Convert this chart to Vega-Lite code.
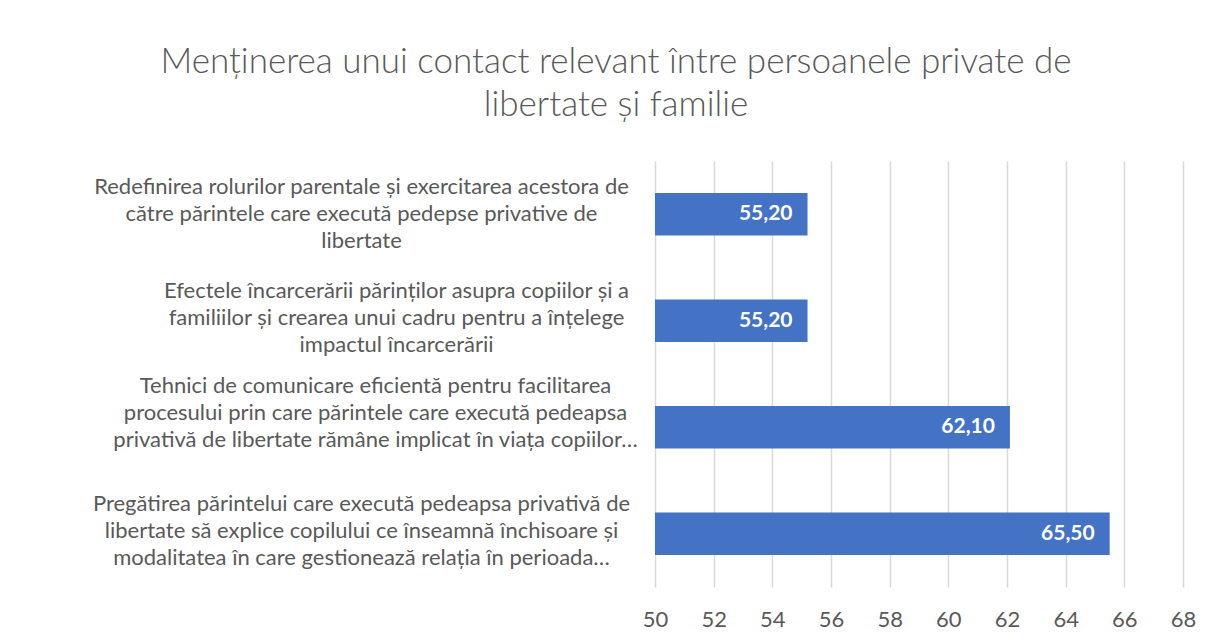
{
  "$schema": "https://vega.github.io/schema/vega-lite/v6.json",
  "width": 528,
  "height": 426,
  "autosize": {"type": "none"},
  "padding": {"left": 655, "top": 161, "right": 29, "bottom": 55},
  "background": "white",
  "config": {
    "locale": {"number": {"decimal": ",", "thousands": ".", "grouping": [3], "currency": ["", ""]}},
    "view": {"stroke": null},
    "font": "Lato"
  },
  "title": {
    "text": ["Menținerea unui contact relevant între persoanele private de", "libertate și familie"],
    "font": "Lato",
    "fontWeight": 300,
    "fontSize": 35,
    "color": "#595959",
    "lineHeight": 43,
    "anchor": "middle",
    "frame": "group",
    "dx": -303,
    "offset": 38
  },
  "data": {
    "values": [
      {"categorie": "Redefinirea rolurilor parentale și exercitarea acestora de|către părintele care execută pedepse privative de|libertate", "valoare": 55.2},
      {"categorie": "Efectele încarcerării părinților asupra copiilor și a|familiilor și crearea unui cadru pentru a înțelege|impactul încarcerării", "valoare": 55.2},
      {"categorie": "Tehnici de comunicare eficientă pentru facilitarea|procesului prin care părintele care execută pedeapsa|privativă de libertate rămâne implicat în viața copiilor…", "valoare": 62.1},
      {"categorie": "Pregătirea părintelui care execută pedeapsa privativă de|libertate să explice copilului ce înseamnă închisoare și|modalitatea în care gestionează relația în perioada…", "valoare": 65.5}
    ]
  },
  "encoding": {
    "y": {
      "field": "categorie",
      "type": "nominal",
      "sort": null,
      "scale": {"paddingInner": 0.6, "paddingOuter": 0.3},
      "axis": {
        "title": null,
        "ticks": false,
        "domain": false,
        "labelExpr": "split(datum.label, '|')",
        "labelAlign": "center",
        "labelBaseline": "middle",
        "labelFont": "Lato",
        "labelFontSize": 22,
        "labelColor": "#595959",
        "labelLineHeight": 27,
        "labelLimit": 0,
        "labelPadding": {"condition": [
          {"test": "indexof(datum.value, 'Efectele') === 0", "value": 259},
          {"test": "indexof(datum.value, 'Tehnici') === 0", "value": 280}
        ], "value": 294},
        "labelOffset": {"condition": [
          {"test": "indexof(datum.value, 'Tehnici') === 0", "value": -41},
          {"test": "indexof(datum.value, 'Redefinirea') === 0", "value": -27}
        ], "value": -30}
      }
    }
  },
  "layer": [
    {
      "mark": {"type": "bar", "color": "#4472C4"},
      "encoding": {
        "x": {
          "field": "valoare",
          "type": "quantitative",
          "scale": {"domain": [50, 68], "zero": false, "nice": false},
          "axis": {
            "title": null,
            "values": [50, 52, 54, 56, 58, 60, 62, 64, 66, 68],
            "format": "d",
            "domain": false,
            "ticks": false,
            "grid": true,
            "gridColor": "#d9d9d9",
            "gridWidth": 1.5,
            "labelFlush": false,
            "labelFont": "Lato",
            "labelFontSize": 22,
            "labelColor": "#595959",
            "labelPadding": 22
          }
        },
        "x2": {"datum": 50}
      }
    },
    {
      "mark": {"type": "text", "align": "right", "baseline": "middle", "dx": -15, "color": "white", "fontWeight": "bold", "fontSize": 21, "font": "Lato"},
      "encoding": {
        "x": {"field": "valoare", "type": "quantitative"},
        "text": {"field": "valoare", "type": "quantitative", "format": ".2f"}
      }
    }
  ]
}
